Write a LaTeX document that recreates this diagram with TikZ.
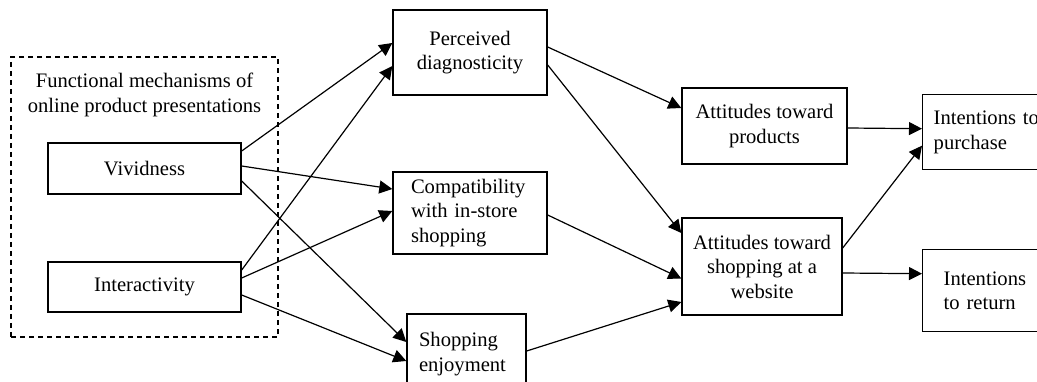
\documentclass[tikz,border=0pt]{standalone}
\usepackage{fontspec}
\setmainfont{Liberation Serif}
\usetikzlibrary{arrows.meta,calc}
\begin{document}
\begin{tikzpicture}[x=1pt,y=-1pt,
  font=\fontsize{20.6}{24.5}\selectfont,
  box/.style={draw, line width=1.4pt, inner sep=0pt, align=center},
  lbox/.style={draw, line width=1.4pt, inner ysep=0pt, align=left},
  conn/.style={line width=1.2pt, -{Triangle[length=13pt,width=13pt]}},
  grpbox/.style={draw, line width=1.2pt, dash pattern=on 5pt off 4pt, inner sep=0pt}]
\useasboundingbox (0,0) rectangle (1037,382);

% group
\node[grpbox, minimum width=267pt, minimum height=280pt] (grp) at (144.5,197) {};
\node[align=center, inner sep=0pt] (title) at (144.5,95) {Functional mechanisms of\\online product presentations};

% nodes
\node[box, minimum width=193pt, minimum height=51pt] (viv) at (144.5,168.5) {Vividness};
\node[box, minimum width=193pt, minimum height=50pt] (int) at (144.5,287) {Interactivity};
\node[box, minimum width=154pt, minimum height=85pt] (pd) at (470,52.5) {Perceived\\diagnosticity};
\node[lbox, text width=118pt, inner xsep=18pt, minimum height=82pt] (comp) at (470,213) {Compatibility\\with in-store\\shopping};
\node[lbox, text width=95pt, inner xsep=12pt, minimum height=80pt] (enj) at (466.5,354) {Shopping\\enjoyment};
\node[box, minimum width=165pt, minimum height=76pt] (ap) at (764.5,126) {Attitudes toward\\products};
\node[box, minimum width=160pt, minimum height=97pt] (as) at (762,266.5) {Attitudes toward\\shopping at a\\website};
\node[lbox, text width=125pt, inner xsep=11pt, minimum height=75pt, anchor=north west] (ip) at (922,94) {Intentions to\\purchase};
\node[lbox, text width=110pt, inner xsep=21pt, minimum height=82pt, anchor=north west] (ir) at (922,249) {Intentions\\to return};

% connectors
\draw[conn] ($(viv.east)+(0,-17.5)$) -- ($(pd.west)+(0,-9.5)$);
\draw[conn] ($(int.east)+(0,-17)$) -- ($(pd.west)+(0,13.5)$);
\draw[conn] ($(viv.east)+(0,-2.5)$) -- ($(comp.west)+(0,-24)$);
\draw[conn] ($(int.east)+(0,-9)$) -- ($(comp.west)+(0,-2)$);
\draw[conn] ($(viv.east)+(0,12.5)$) -- ($(enj.west)+(0,-12)$);
\draw[conn] ($(int.east)+(0,8)$) -- ($(enj.west)+(0,7)$);
\draw[conn] ($(pd.east)+(0,-5.5)$) -- ($(ap.west)+(0,-18)$);
\draw[conn] ($(pd.east)+(0,12.5)$) -- ($(as.west)+(0,-33.5)$);
\draw[conn] ($(comp.east)+(0,2)$) -- ($(as.west)+(0,12)$);
\draw[conn] ($(enj.east)+(0,-3)$) -- ($(as.west)+(0,35.5)$);
\draw[conn] ($(ap.east)+(0,2)$) -- ($(ip.west)+(0,-3.5)$);
\draw[conn] ($(as.east)+(0,-18.5)$) -- ($(ip.west)+(0,13.5)$);
\draw[conn] ($(as.east)+(0,6.5)$) -- ($(ir.west)+(0,-17)$);
\end{tikzpicture}
\end{document}
